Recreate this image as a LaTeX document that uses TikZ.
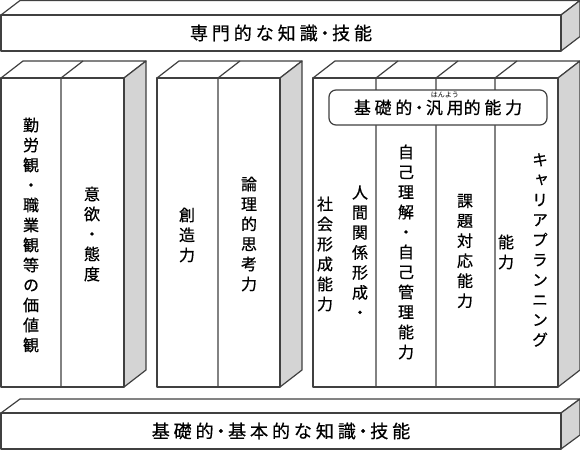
\documentclass[tikz,border=0pt]{standalone}
\usepackage{fontspec}
\newfontfamily\cjkh[LetterSpace=22,FakeBold=0.6]{Noto Sans CJK JP}
\newfontfamily\cjkv[RawFeature=+vert,FakeBold=0.6]{Noto Sans CJK JP}
\newfontfamily\cjkr{Noto Sans CJK JP}
\definecolor{linec}{RGB}{64,64,64}
\definecolor{sidec}{RGB}{212,212,212}
\newcommand\mydot{\makebox[0.8em]{・}}
\newcommand\myruby[2]{\setbox0\hbox{#1}\hbox{\rlap{\smash{\raisebox{16pt}{\makebox[\wd0]{\cjkr\fontsize{7}{7}\selectfont #2}}}}\box0}}
\newcommand\myblock[6]{%
  \filldraw[topf] (#1,#3) -- ++(#5,-#6) -- ({#2+#5},{#3-#6}) -- (#2,#3) -- cycle;
  \filldraw[sidef] (#2,#3) -- ({#2+#5},{#3-#6}) -- ({#2+#5},{#4-#6}) -- (#2,#4) -- cycle;
  \filldraw[frontf] (#1,#3) rectangle (#2,#4);
}
\newcommand\mydivider[4]{%
  \draw[edgeline] (#1,#2) -- (#1,#3) (#1,#2) -- ++(#4,-17);
}
\tikzset{
  edgeline/.style={draw=linec, line width=1.2pt, line join=round},
  frontf/.style={edgeline, fill=white},
  sidef/.style={edgeline, fill=sidec},
  topf/.style={edgeline, fill=white},
  vtxt/.style={font=\cjkv\fontsize{16}{20}\selectfont, align=center, inner sep=0pt},
  htxt/.style={font=\cjkh\fontsize{18}{20}\selectfont, inner sep=0pt},
}
\begin{document}
\begin{tikzpicture}[x=1pt,y=-1pt]
\useasboundingbox (0,0) rectangle (580,450);
% top bar
\myblock{1}{561}{15}{51}{19}{14.5}
\node[htxt] (senmon) at (281,33) {専門的な知識\mydot 技能};
% bottom bar
\myblock{1}{561}{413}{449}{19}{14}
\node[htxt] (kihon) at (281,431) {基礎的\mydot 基本的な知識\mydot 技能};
% pillar 1
\myblock{1}{124}{78}{387}{22}{17}
\mydivider{61}{78}{387}{22}
\node[vtxt] (kinrou) at (31,235) {勤\\労\\観\\・\\職\\業\\観\\等\\の\\価\\値\\観};
\node[vtxt] (iyoku) at (92,234) {意\\欲\\・\\態\\度};
% pillar 2
\myblock{157}{280}{78}{387}{22}{17}
\mydivider{218}{78}{387}{22}
\node[vtxt] (souzou) at (187,235) {創\\造\\力};
\node[vtxt] (ronri) at (249,234) {論\\理\\的\\思\\考\\力};
% pillar 3
\myblock{313}{558}{78}{387}{22}{17}
\mydivider{376}{78}{387}{22}
\mydivider{436}{78}{387}{22}
\mydivider{495}{78}{387}{22}
\node[draw=linec, line width=1.2pt, fill=white, rounded corners=7pt,
      minimum width=218pt, minimum height=35pt, inner sep=0pt,
      font=\cjkh\fontsize{17}{20}\selectfont] (kiso) at (438,107.5)
  {基礎的\mydot\myruby{汎用}{はんよう}的能力};
\node[vtxt] (ningen) at (360,252) {人\\間\\関\\係\\形\\成\\・};
\node[vtxt] (shakai) at (325,254) {社\\会\\形\\成\\能\\力};
\node[vtxt] (jiko) at (406,252) {自\\己\\理\\解\\・\\自\\己\\管\\理\\能\\力};
\node[vtxt] (kadai) at (465,251) {課\\題\\対\\応\\能\\力};
\node[vtxt] (career) at (540,250) {キ\\ャ\\リ\\ア\\プ\\ラ\\ン\\ニ\\ン\\グ};
\node[vtxt] (nouryoku) at (506,252) {能\\力};
\end{tikzpicture}
\end{document}
